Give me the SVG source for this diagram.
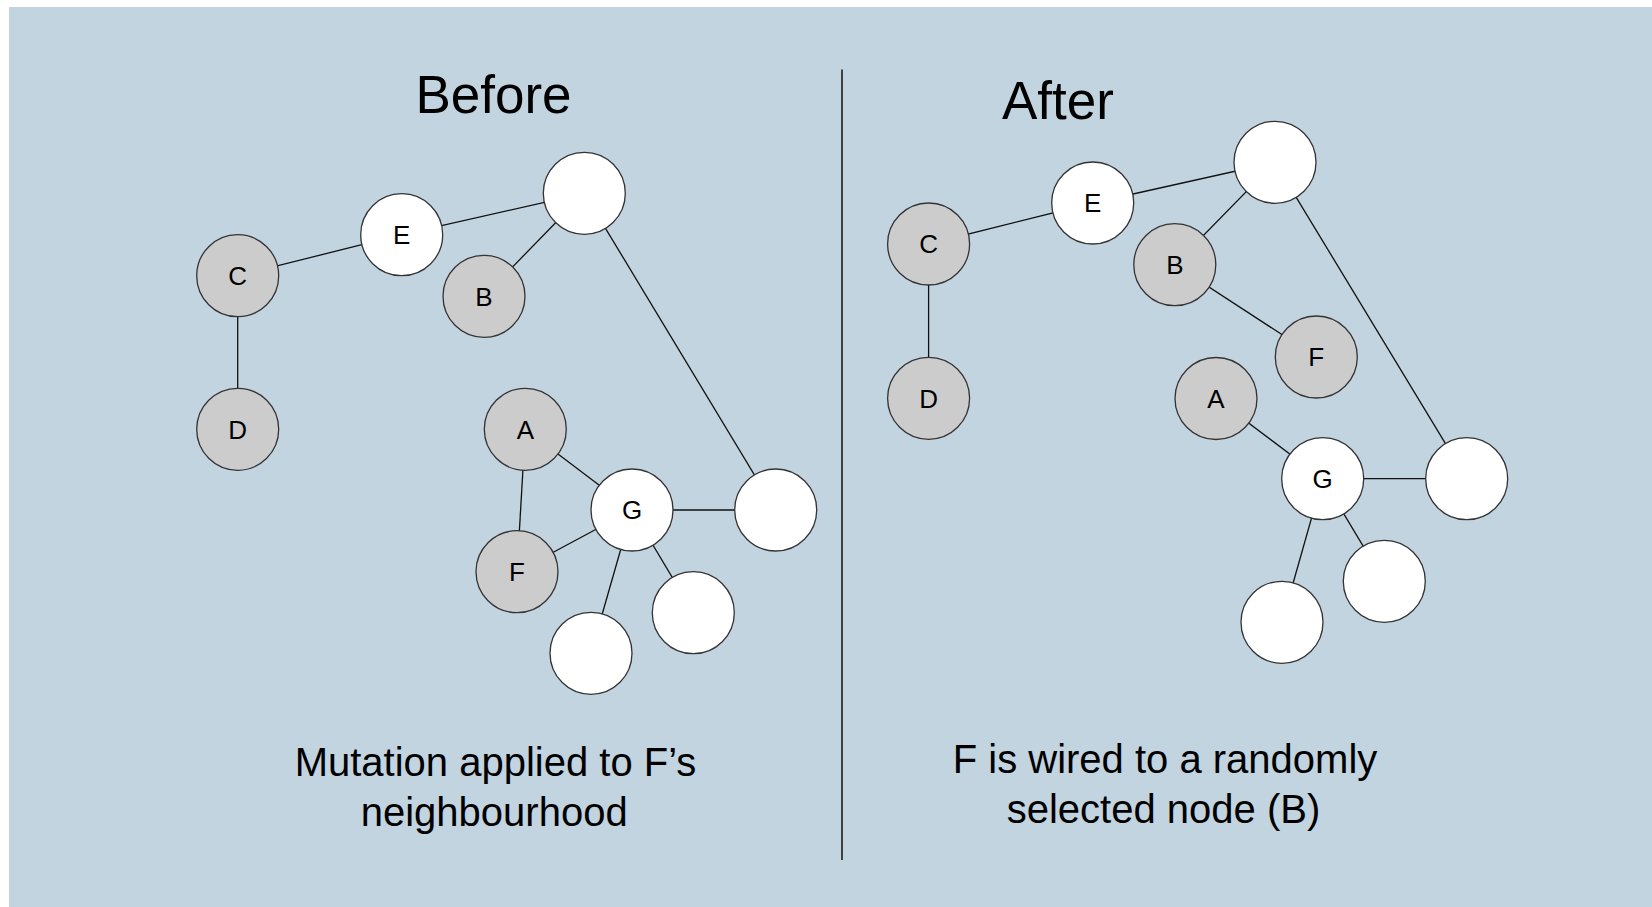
<svg xmlns="http://www.w3.org/2000/svg" width="1652" height="907" viewBox="0 0 1652 907">
  <style>
    .bg { fill: #c2d4e0; }
    .edge { stroke: #111; stroke-width: 1.3; fill: none; }
    .node { stroke: #333; stroke-width: 1.3; }
    .grey { fill: #cccccc; }
    .white { fill: #ffffff; }
    .lbl { font-family: "Liberation Sans", Arial, sans-serif; font-size: 26px; fill: #000; text-anchor: middle; }
    .title { font-family: "Liberation Sans", Arial, sans-serif; font-size: 53px; fill: #000; }
    .caption { font-family: "Liberation Sans", Arial, sans-serif; font-size: 40px; fill: #000; text-anchor: middle; }
  </style>

  <rect class="bg" x="9" y="7" width="1643" height="900"/>

  <!-- divider between the two panels -->
  <line x1="842" y1="69.5" x2="842" y2="860" stroke="#111" stroke-width="1.5"/>

  <!-- panel titles -->
  <text class="title" x="493.5" y="113" text-anchor="middle">Before</text>
  <text class="title" x="1002" y="119">After</text>

  <!-- connectors -->
  <g id="connectors">
    <!-- before -->
    <line class="edge" x1="237.7" y1="275.7" x2="401.7" y2="234.7"/>
    <line class="edge" x1="401.7" y1="234.7" x2="584.3" y2="193.3"/>
    <line class="edge" x1="584.3" y1="193.3" x2="484" y2="296.3"/>
    <line class="edge" x1="584.3" y1="193.3" x2="775.7" y2="510"/>
    <line class="edge" x1="237.7" y1="275.7" x2="237.7" y2="429.3"/>
    <line class="edge" x1="525.3" y1="429.3" x2="632" y2="510"/>
    <line class="edge" x1="525.3" y1="429.3" x2="517" y2="571.7"/>
    <line class="edge" x1="517" y1="571.7" x2="632" y2="510"/>
    <line class="edge" x1="632" y1="510" x2="775.7" y2="510"/>
    <line class="edge" x1="632" y1="510" x2="693.3" y2="612.7"/>
    <line class="edge" x1="632" y1="510" x2="591" y2="653.3"/>
    <!-- after -->
    <line class="edge" x1="928.6" y1="244" x2="1092.7" y2="203"/>
    <line class="edge" x1="1092.7" y1="203" x2="1275" y2="162.3"/>
    <line class="edge" x1="1275" y1="162.3" x2="1174.8" y2="264.7"/>
    <line class="edge" x1="1174.8" y1="264.7" x2="1316.3" y2="357"/>
    <line class="edge" x1="1275" y1="162.3" x2="1466.7" y2="478.7"/>
    <line class="edge" x1="928.6" y1="244" x2="928.6" y2="398.3"/>
    <line class="edge" x1="1216" y1="398.5" x2="1322.7" y2="478.7"/>
    <line class="edge" x1="1322.7" y1="478.7" x2="1466.7" y2="478.7"/>
    <line class="edge" x1="1322.7" y1="478.7" x2="1384.3" y2="581.3"/>
    <line class="edge" x1="1322.7" y1="478.7" x2="1282" y2="622.3"/>
  </g>

  <!-- before graph nodes -->
  <g id="before-C"><circle class="node grey" cx="237.7" cy="275.7" r="41"/><text class="lbl" x="237.7" y="285">C</text></g>
  <g id="before-E"><circle class="node white" cx="401.7" cy="234.7" r="41"/><text class="lbl" x="401.7" y="244">E</text></g>
  <g id="before-top"><circle class="node white" cx="584.3" cy="193.3" r="41"/></g>
  <g id="before-B"><circle class="node grey" cx="484" cy="296.3" r="41"/><text class="lbl" x="484" y="305.6">B</text></g>
  <g id="before-D"><circle class="node grey" cx="237.7" cy="429.3" r="41"/><text class="lbl" x="237.7" y="438.6">D</text></g>
  <g id="before-A"><circle class="node grey" cx="525.3" cy="429.3" r="41"/><text class="lbl" x="525.3" y="438.6">A</text></g>
  <g id="before-G"><circle class="node white" cx="632" cy="510" r="41"/><text class="lbl" x="632" y="519.3">G</text></g>
  <g id="before-right"><circle class="node white" cx="775.7" cy="510" r="41"/></g>
  <g id="before-F"><circle class="node grey" cx="517" cy="571.7" r="41"/><text class="lbl" x="517" y="581">F</text></g>
  <g id="before-lower-right"><circle class="node white" cx="693.3" cy="612.7" r="41"/></g>
  <g id="before-bottom"><circle class="node white" cx="591" cy="653.3" r="41"/></g>

  <!-- after graph nodes -->
  <g id="after-C"><circle class="node grey" cx="928.6" cy="244" r="41"/><text class="lbl" x="928.6" y="253.3">C</text></g>
  <g id="after-E"><circle class="node white" cx="1092.7" cy="203" r="41"/><text class="lbl" x="1092.7" y="212.3">E</text></g>
  <g id="after-top"><circle class="node white" cx="1275" cy="162.3" r="41"/></g>
  <g id="after-B"><circle class="node grey" cx="1174.8" cy="264.7" r="41"/><text class="lbl" x="1174.8" y="274">B</text></g>
  <g id="after-F"><circle class="node grey" cx="1316.3" cy="357" r="41"/><text class="lbl" x="1316.3" y="366.3">F</text></g>
  <g id="after-A"><circle class="node grey" cx="1216" cy="398.5" r="41"/><text class="lbl" x="1216" y="407.8">A</text></g>
  <g id="after-D"><circle class="node grey" cx="928.6" cy="398.3" r="41"/><text class="lbl" x="928.6" y="407.6">D</text></g>
  <g id="after-G"><circle class="node white" cx="1322.7" cy="478.7" r="41"/><text class="lbl" x="1322.7" y="488">G</text></g>
  <g id="after-right"><circle class="node white" cx="1466.7" cy="478.7" r="41"/></g>
  <g id="after-lower-right"><circle class="node white" cx="1384.3" cy="581.3" r="41"/></g>
  <g id="after-bottom"><circle class="node white" cx="1282" cy="622.3" r="41"/></g>

  <!-- captions -->
  <text class="caption" x="495.5" y="776">Mutation applied to F’s</text>
  <text class="caption" x="494.2" y="826">neighbourhood</text>
  <text class="caption" x="1165" y="772.5">F is wired to a randomly</text>
  <text class="caption" x="1163.5" y="823">selected node (B)</text>
</svg>
